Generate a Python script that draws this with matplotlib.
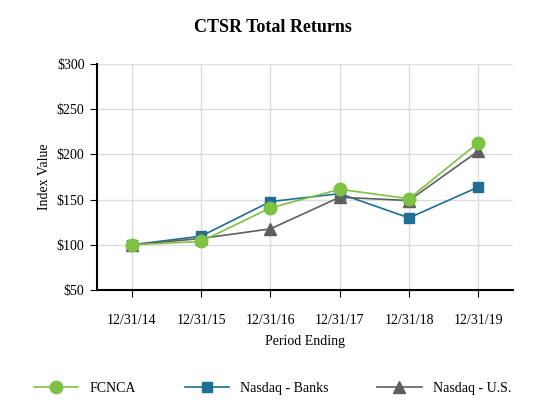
import matplotlib
matplotlib.use("Agg")
import matplotlib.pyplot as plt
from matplotlib.ticker import FuncFormatter

plt.rcParams['font.family'] = ['Liberation Serif', 'DejaVu Serif']

periods = ["12/31/14", "12/31/15", "12/31/16", "12/31/17", "12/31/18", "12/31/19"]
fcnca = [100, 103.7, 140.8, 161.4, 151, 213]
banks = [100, 109.5, 147.8, 156.6, 129.8, 163.9]
nasdaq_us = [100, 107, 117.6, 152.6, 149, 203.7]

fig = plt.figure(figsize=(5.45, 4.2), dpi=100)
ax = fig.add_axes([97/545, 1-290/420, (513-97)/545, (290-64)/420])
x = range(len(periods))
ax.plot(x, banks, color='#1f6e94', marker='s', markersize=7, lw=1.2, label='Nasdaq - Banks', zorder=3)
ax.plot(x, nasdaq_us, color='#5f5f5f', marker='^', markersize=8, lw=1.2, label='Nasdaq - U.S.', zorder=3)
ax.plot(x, fcnca, color='#7dc243', marker='o', markersize=9, lw=1.2, label='FCNCA', zorder=4)
ax.set_xlim(-0.5, 5.5)
ax.set_ylim(50, 300)
ax.set_yticks(range(50, 301, 50))
ax.yaxis.set_major_formatter(FuncFormatter(lambda v, p: f"${v:.0f}"))
ax.set_xticks(list(x))
ax.set_xticklabels(periods)
ax.grid(True, color='#dddddd', lw=1)
ax.set_axisbelow(True)
for s in ['top', 'right']:
    ax.spines[s].set_visible(False)
for s in ['left', 'bottom']:
    ax.spines[s].set_linewidth(1.5)
ax.tick_params(labelsize=10, length=5, pad=12)
ax.tick_params(axis='y', pad=4)
ax.set_xlabel('Period Ending', fontsize=10, labelpad=6)
ax.set_ylabel('Index Value', fontsize=10)
fig.suptitle('CTSR Total Returns', fontsize=13, fontweight='bold', y=0.955)
h, l = ax.get_legend_handles_labels()
order = [2, 0, 1]
fig.legend([h[i] for i in order], [l[i] for i in order], loc='lower center', ncol=3,
           bbox_to_anchor=(0.5, 0.03), frameon=False, fontsize=10, handlelength=3.2,
           columnspacing=3.5)
fig.savefig('out.png', dpi=100)
